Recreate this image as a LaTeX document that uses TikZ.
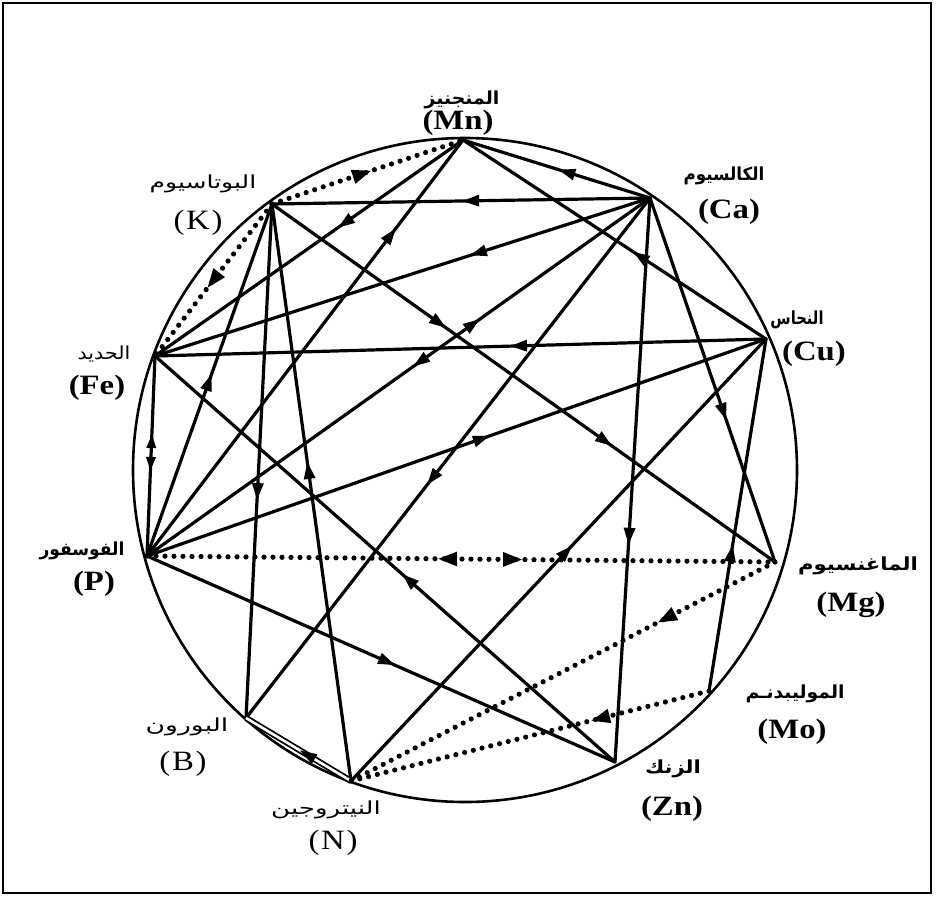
\documentclass[tikz,border=0pt]{standalone}
\usepackage{fontspec}
\setmainfont{Liberation Serif}
\newfontfamily\arabicfont[Script=Arabic]{DejaVu Sans}
\TeXXeTstate=1
\usetikzlibrary{arrows.meta,decorations.markings}
\newcommand\arabtxt[2]{\scalebox{#1}[1]{\beginR#2\endR}}
\newcommand\symtxt[1]{\scalebox{1.17}[1]{#1}}
\tikzset{
  Tri/.tip={Triangle[length=17pt,width=11pt]},
  SmTri/.tip={Triangle[length=14pt,width=9pt]},
  BigTri/.tip={Triangle[length=20pt,width=13pt]},
  chord/.style={line width=3.2pt,line cap=round},
  dotchord/.style={line width=5.2pt,line cap=round,dash pattern=on 0pt off 9pt},
  fwd/.style={postaction={decorate,decoration={markings,mark=at position #1 with {\arrow{Tri}}}}},
  bwd/.style={postaction={decorate,decoration={markings,mark=at position #1 with {\arrowreversed{Tri}}}}},
  sfwd/.style={postaction={decorate,decoration={markings,mark=at position #1 with {\arrow{SmTri}}}}},
  sbwd/.style={postaction={decorate,decoration={markings,mark=at position #1 with {\arrowreversed{SmTri}}}}},
  dfwd/.style={postaction={decorate,decoration={markings,mark=at position #1 with {\arrow{BigTri}}}}},
  dbwd/.style={postaction={decorate,decoration={markings,mark=at position #1 with {\arrowreversed{BigTri}}}}},
  arlab/.style={font=\arabicfont\fontsize{18}{22}\selectfont,inner sep=0pt},
  arlabb/.style={font=\arabicfont\bfseries\fontsize{18}{22}\selectfont,inner sep=0pt},
  symb/.style={font=\fontsize{28}{32}\selectfont,inner sep=0pt},
  symbb/.style={font=\bfseries\fontsize{28}{32}\selectfont,inner sep=0pt},
}
\begin{document}
\begin{tikzpicture}[x=1pt,y=-1pt]
\useasboundingbox (0,0) rectangle (938,914);
\draw[line width=2pt] (3,3) rectangle (931,893);
\draw[line width=2.6pt] (465,470) circle[radius=332];

% element points
\coordinate (Mn) at (463,140);
\coordinate (K)  at (272,204);
\coordinate (Ca) at (650,198);
\coordinate (Cu) at (766,339);
\coordinate (Mg) at (775,562);
\coordinate (Mo) at (709,691);
\coordinate (Zn) at (615,762);
\coordinate (N)  at (351,781);
\coordinate (B)  at (246,718);
\coordinate (P)  at (147,556);
\coordinate (Fe) at (155,356);

% solid connectors
\draw[chord,fwd=0.497] (Ca) -- (K);
\draw[chord,fwd=0.49] (Ca) -- (Mn);
\draw[chord,fwd=0.406] (Mn) -- (Fe);
\draw[chord,fwd=0.788] (P) -- (Mn);
\draw[chord,fwd=0.439] (Cu) -- (Mn);
\draw[chord,fwd=0.364] (Ca) -- (Fe);
\draw[chord,fwd=0.471,bwd=0.338] (Ca) -- (P);
\draw[chord,fwd=0.552] (Ca) -- (B);
\draw[chord,fwd=0.615] (Ca) -- (Zn);
\draw[chord,fwd=0.61] (Ca) -- (Mg);
\draw[chord,fwd=0.419] (Cu) -- (Fe);
\draw[chord,fwd=0.554] (P) -- (Cu);
\draw[chord,fwd=0.533] (N) -- (Cu);
\draw[chord,fwd=0.415] (Mo) -- (Cu);
\draw[chord,fwd=0.346,fwd=0.676] (K) -- (Mg);
\draw[chord,fwd=0.576] (K) -- (B);
\draw[chord,fwd=0.553] (N) -- (K);
\draw[chord,fwd=0.517] (P) -- (K);
\draw[chord,sbwd=0.39,sfwd=0.575] (Fe) -- (P);
\draw[chord,fwd=0.463] (Zn) -- (Fe);
\draw[chord,fwd=0.53] (P) -- (Zn);
\draw[line width=1.8pt,double distance=2.6pt] (N) -- (B);
\path[fwd=0.486] (N) -- (B);

% dotted connectors
\draw[dotchord,dfwd=0.524] (K) -- (Mn);
\draw[dotchord,dfwd=0.556] (K) -- (Fe);
\draw[dotchord,dbwd=0.462,dfwd=0.599] (P) -- (Mg);
\draw[dotchord,dfwd=0.278] (Mg) -- (N);
\draw[dotchord,dfwd=0.332] (Mo) -- (N);

% labels
\node[arlabb] (MnA) at (462,100) {\arabtxt{1.05}{المنجنيز}};
\node[symbb]  (MnS) at (458,123) {\symtxt{(Mn)}};
\node[arlab]  (KA)  at (203,184) {\arabtxt{1.39}{البوتاسيوم}};
\node[symb]   (KS)  at (198,223) {\symtxt{(\kern1.5pt K\kern1.5pt)}};
\node[arlabb] (CaA) at (724,176) {\arabtxt{0.93}{الكالسيوم}};
\node[symbb]  (CaS) at (729,212) {\symtxt{(Ca)}};
\node[arlabb] (CuA) at (797,320) {\arabtxt{0.82}{النحاس}};
\node[symbb]  (CuS) at (814,354) {\symtxt{(Cu)}};
\node[arlab]  (FeA) at (104,354) {\arabtxt{1.15}{الحديد}};
\node[symbb]  (FeS) at (97,388) {\symtxt{(Fe)}};
\node[arlabb] (PA)  at (82,551) {\arabtxt{0.95}{الفوسفور}};
\node[symbb]  (PS)  at (94,584) {\symtxt{(P)}};
\node[arlabb] (MgA) at (858,566) {\arabtxt{1.18}{الماغنسيوم}};
\node[symbb]  (MgS) at (851,605) {\symtxt{(Mg)}};
\node[arlabb] (MoA) at (795,694) {\arabtxt{1.04}{الموليبدنـم}};
\node[symbb]  (MoS) at (792,732) {\symtxt{(Mo)}};
\node[arlabb] (ZnA) at (673,769) {\arabtxt{1.17}{الزنك}};
\node[symbb]  (ZnS) at (672,809) {\symtxt{(Zn)}};
\node[arlab]  (NA)  at (326,810) {\arabtxt{1.45}{النيتروجين}};
\node[symb]   (NS)  at (333,843) {\symtxt{(\kern1.5pt N\kern1.5pt)}};
\node[arlab]  (BA)  at (187,727) {\arabtxt{1.48}{البورون}};
\node[symb]   (BS)  at (183,764) {\symtxt{(\kern1.5pt B\kern1.5pt)}};
\end{tikzpicture}
\end{document}
